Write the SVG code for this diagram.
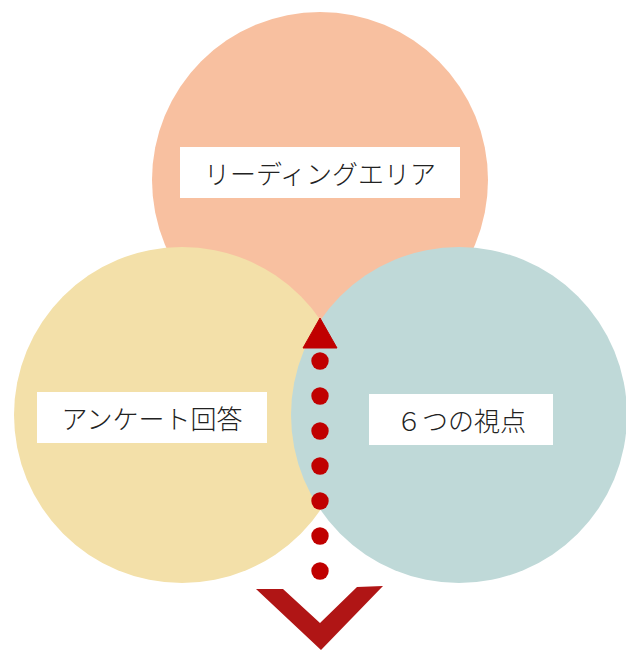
<svg xmlns="http://www.w3.org/2000/svg" width="626" height="651" viewBox="0 0 626 651">
<style>
.lbl{fill:#fff}
.t{font-family:"Noto Sans CJK JP","Noto Sans CJK SC",sans-serif;font-size:26px;font-weight:300;fill:#222;text-anchor:middle;dominant-baseline:central}
.dot{fill:#C00000}
</style>
<rect width="626" height="651" fill="#fff"/>
<g id="top">
<circle cx="320" cy="180" r="168" fill="#F8C0A0"/>
<rect class="lbl" x="180" y="147" width="280" height="51"/>
<text class="t" x="320" y="172">リーディングエリア</text>
</g>
<g id="left">
<circle cx="182" cy="415" r="168" fill="#F3E0A9"/>
<rect class="lbl" x="37" y="392" width="230" height="51"/>
<text class="t" x="152" y="417">アンケート回答</text>
</g>
<g id="right">
<circle cx="459" cy="415" r="168" fill="#BFD9D8"/>
<rect class="lbl" x="369" y="394" width="184" height="51"/>
<text class="t" x="461" y="419">６つの視点</text>
</g>
<g id="connectors">
<polygon points="320,318 337,348 303,348" fill="#C00000" stroke="#C00000" stroke-width="1" stroke-linejoin="round"/>
<circle class="dot" cx="320" cy="361" r="8.7"/>
<circle class="dot" cx="320" cy="396" r="8.7"/>
<circle class="dot" cx="320" cy="431" r="8.7"/>
<circle class="dot" cx="320" cy="466" r="8.7"/>
<circle class="dot" cx="320" cy="501" r="8.7"/>
<circle class="dot" cx="320" cy="536" r="8.7"/>
<circle class="dot" cx="320" cy="571" r="8.7"/>
<polygon points="256,589 283,589 320,623 357,587 383,586 321,650" fill="#B01515"/>
</g>
</svg>
